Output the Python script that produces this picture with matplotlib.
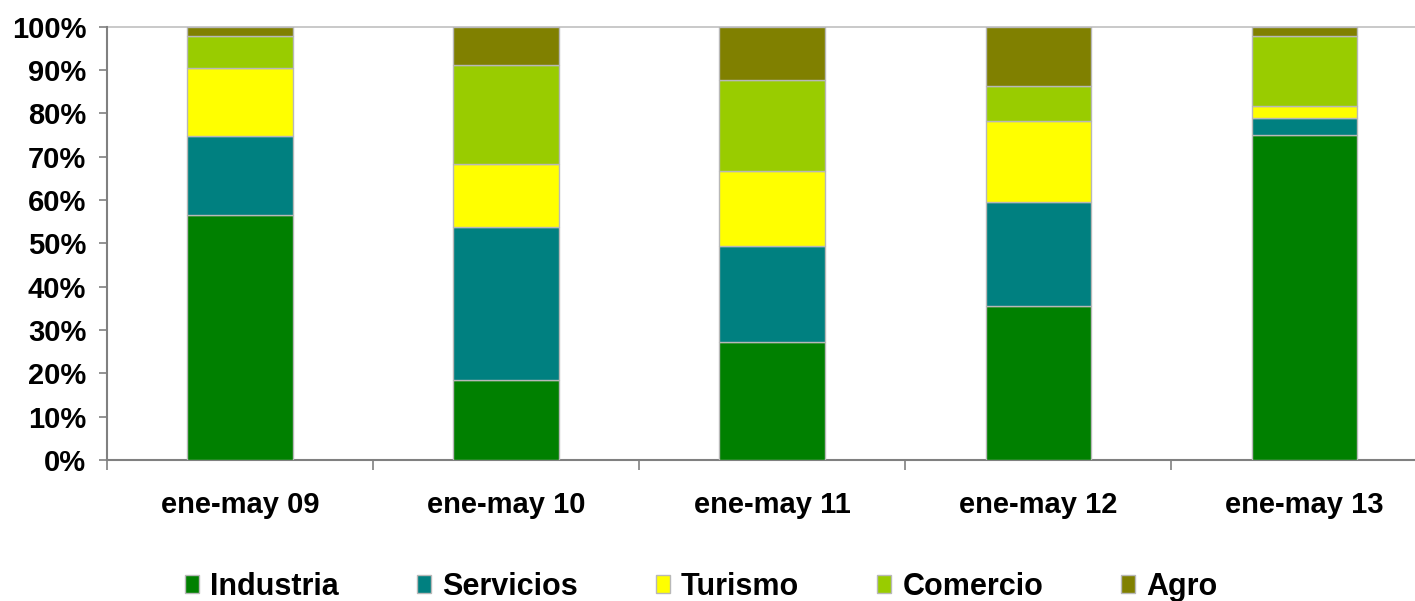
import numpy as np
import matplotlib.pyplot as plt
from matplotlib.patches import Patch
from matplotlib.ticker import FixedLocator

plt.rcParams['font.family'] = ['Liberation Sans', 'DejaVu Sans']
plt.rcParams['font.weight'] = 'bold'

# shares (%), bottom to top
periodos = ["ene-may 09", "ene-may 10", "ene-may 11", "ene-may 12", "ene-may 13"]
industria = [56.5, 18.4, 27.2, 35.5, 74.9]
servicios = [18.3, 35.4, 22.1, 24.0, 4.0]
turismo = [15.7, 14.4, 17.3, 18.8, 2.7]
comercio = [7.3, 22.9, 21.1, 7.9, 16.2]
agro = [2.2, 8.9, 12.3, 13.8, 2.2]

series = [("Industria", industria, "#008000"),
          ("Servicios", servicios, "#008080"),
          ("Turismo", turismo, "#FFFF00"),
          ("Comercio", comercio, "#99CC00"),
          ("Agro", agro, "#808000")]

fig = plt.figure(figsize=(14.15, 6.01), dpi=100)
ax = fig.add_axes([0.0756, 0.2346, 0.94, 0.721])

x = np.arange(len(periodos))
bottom = np.zeros(len(periodos))
for name, vals, col in series:
    vals = np.array(vals)
    ax.bar(x, vals, 0.395, bottom=bottom, color=col, edgecolor="#b8b8b8",
           linewidth=1, label=name, zorder=3)
    bottom += vals

ax.set_xlim(-0.5, 4.5)
ax.set_ylim(0, 100)
ax.axhline(100, color="#c0c0c0", lw=1.2, zorder=1, clip_on=False)

ax.set_yticks(np.arange(0, 101, 10))
ax.set_yticklabels([f"{v}%" for v in range(0, 101, 10)])
ax.tick_params(axis="y", length=6, width=1.2, color="#808080", pad=9,
               labelsize=21)

ax.xaxis.set_major_locator(FixedLocator(np.arange(-0.5, 4.6, 1)))
ax.xaxis.set_minor_locator(FixedLocator(x))
ax.xaxis.set_major_formatter(plt.NullFormatter())
ax.set_xticks(x, minor=True)
ax.set_xticklabels(periodos, minor=True)
ax.tick_params(axis="x", which="major", length=7, width=1.2, color="#808080")
ax.tick_params(axis="x", which="minor", length=0, pad=22, labelsize=21)

for s in ["top", "right"]:
    ax.spines[s].set_visible(False)
for s in ["left", "bottom"]:
    ax.spines[s].set_color("#808080")
    ax.spines[s].set_linewidth(1.5)

handles = [Patch(facecolor=c, edgecolor="#b8b8b8", label=n) for n, v, c in series]
fig.legend(handles=handles, loc="center", bbox_to_anchor=(0.4955, 0.024),
           ncol=5, frameon=False, fontsize=22, handlelength=0.46,
           handleheight=0.55, handletextpad=0.36, columnspacing=2.56)

fig.savefig("out.png", dpi=100)
